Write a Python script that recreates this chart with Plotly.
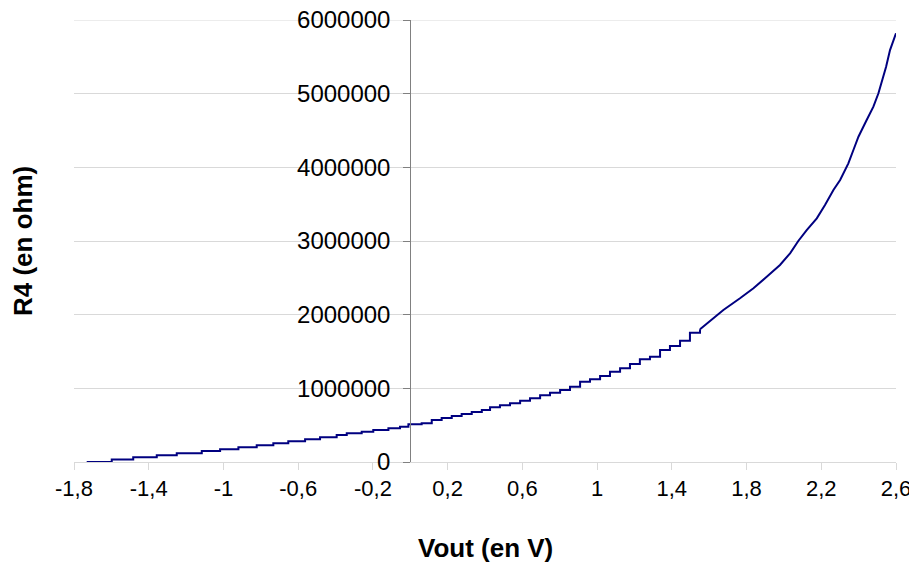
import plotly.graph_objects as go

# Vout (V) / R4 (ohm) (staircase corners)
vout = [-1.732, -1.598, -1.483, -1.357, -1.25, -1.116, -1.018, -0.92, -0.822,
        -0.733, -0.653, -0.563, -0.483, -0.394, -0.34, -0.26, -0.198, -0.117,
        -0.055, -0.01, 0.061, 0.115, 0.168, 0.222, 0.275, 0.329, 0.383, 0.427,
        0.48, 0.534, 0.588, 0.641, 0.695, 0.748, 0.802, 0.855, 0.909, 0.962,
        1.016, 1.069, 1.123, 1.176, 1.229, 1.283, 1.337, 1.39, 1.444, 1.497,
        1.551, 1.614, 1.676, 1.765, 1.837, 1.908, 1.979, 2.033, 2.077, 2.122,
        2.176, 2.22, 2.265, 2.301, 2.345, 2.372, 2.399, 2.443, 2.479, 2.506,
        2.524, 2.547, 2.568, 2.6]
r4 = [0, 35000, 64000, 91000, 118000, 149000, 172000, 200000, 227000,
      254000, 281000, 308000, 335000, 366000, 389000, 412000, 434000, 457000,
      479000, 512000, 525000, 570000, 597000, 624000, 652000, 679000, 706000, 742000,
      770000, 797000, 832000, 864000, 905000, 941000, 977000, 1022000, 1090000, 1122000,
      1167000, 1226000, 1271000, 1330000, 1394000, 1430000, 1520000, 1575000, 1647000, 1755000,
      1801000, 1937000, 2063000, 2222000, 2358000, 2515000, 2674000, 2833000, 3000000, 3149000,
      3308000, 3488000, 3692000, 3828000, 4054000, 4235000, 4416000, 4642000, 4823000, 5005000,
      5162000, 5366000, 5592000, 5819000]

x_ticks = [-1.8, -1.4, -1.0, -0.6, -0.2, 0.2, 0.6, 1.0, 1.4, 1.8, 2.2, 2.6]
x_tick_labels = ["-1,8", "-1,4", "-1", "-0,6", "-0,2", "0,2", "0,6", "1", "1,4", "1,8", "2,2", "2,6"]

Y_MAX = 6000000

FONT = "Liberation Sans, Arial, sans-serif"
NAVY = "#000080"
GRID = "#d9d9d9"

# steps are visible up to ~1.55 V, beyond that the curve reads as a plain line
split = vout.index(1.551)

fig = go.Figure()
fig.add_trace(go.Scatter(x=vout[:split + 1], y=r4[:split + 1], mode="lines", line_shape="hv",
                         line=dict(color=NAVY, width=2), showlegend=False, hoverinfo="skip"))
fig.add_trace(go.Scatter(x=vout[split:], y=r4[split:], mode="lines",
                         line=dict(color=NAVY, width=2), showlegend=False, hoverinfo="skip"))

# plotly skips the gridline sitting on the top edge, draw it by hand
fig.add_shape(type="line", xref="paper", yref="y", x0=0, x1=1, y0=Y_MAX, y1=Y_MAX,
              line=dict(color=GRID, width=1), layer="below")

# the page body adds an 8px offset, so margins are trimmed by that amount
fig.update_layout(
    width=917, height=563,
    margin=dict(l=66, r=29, t=12, b=109),
    plot_bgcolor="white", paper_bgcolor="white",
    font=dict(family=FONT, size=22, color="black"),
    xaxis=dict(range=[-1.8, 2.6], tickvals=x_ticks, ticktext=x_tick_labels,
               showgrid=False, zeroline=False, showline=True, linecolor=GRID,
               linewidth=1, ticks="outside", ticklen=7, tickcolor=GRID,
               automargin=False, ticklabeloverflow="allow", tickfont=dict(size=22)),
    yaxis=dict(range=[0, Y_MAX], dtick=1000000, tickformat="d",
               anchor="free", position=1.8 / 4.4, side="left",
               showgrid=True, gridcolor=GRID, gridwidth=1, zeroline=False,
               showline=True, linecolor="#808080", linewidth=1,
               ticks="outside", ticklen=7, tickcolor="#808080",
               ticklabelstandoff=8, automargin=False, ticklabeloverflow="allow",
               tickfont=dict(size=24)),
    annotations=[
        dict(text="<b>Vout (en V)</b>", xref="paper", yref="paper", x=0.5, y=-0.195,
             xanchor="center", yanchor="middle", showarrow=False,
             font=dict(family=FONT, size=26)),
        dict(text="<b>R4 (en ohm)</b>", xref="paper", yref="paper", x=-0.062, y=0.5,
             xanchor="center", yanchor="middle", textangle=-90, showarrow=False,
             font=dict(family=FONT, size=26)),
    ],
)

fig.write_html("out.html")
